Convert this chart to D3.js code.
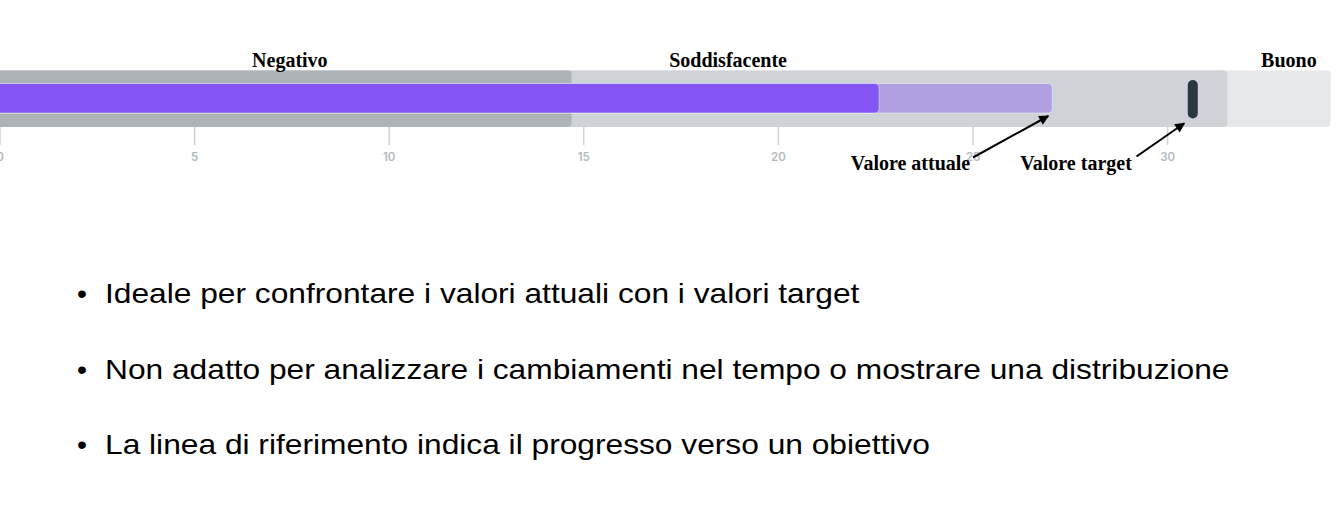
<!DOCTYPE html>
<html>
<head>
<meta charset="utf-8">
<script src="https://cdn.jsdelivr.net/npm/d3@7"></script>
<style>
    html, body { margin: 0; padding: 0; background: #ffffff; }
    #chart-area { width: 1342px; height: 509px; }
    .axis path { display: none; }
    .axis line { stroke: #cfd3d8; stroke-width: 1.5; }
    .axis text { fill: #b3b9c1; font-family: Inter, "Noto Sans", sans-serif; font-size: 11.5px; font-weight: 600; }
    .range-label, .annotation { font-family: "Liberation Serif", "Times New Roman", serif; font-weight: bold; font-size: 20px; fill: #000; }
    .bullet-text { font-family: "Liberation Sans", Arial, sans-serif; font-size: 28.5px; fill: #000; }
</style>
</head>
<body>
<div id="chart-area"></div>
<script>

// Qualitative ranges (upper end of each band)
var rangeNames = ["Negativo", "Soddisfacente", "Buono"];
var rangeEnds = [14.7, 31.55, 34.2];
var rangeColors = ["#aeb3b8", "#cfd2d6", "#e6e7e9"];

// Measures: projected (light) and current (dark)
var measureNames = ["Valore attuale", "Parziale"];
var measureValues = [27.05, 22.6];
var measureColors = ["#b09fe1", "#8455f3"];

var targetValue = 30.66;

var tickValues = [0, 5, 10, 15, 20, 25, 30];

var bulletPoints = [
    "Ideale per confrontare i valori attuali con i valori target",
    "Non adatto per analizzare i cambiamenti nel tempo o mostrare una distribuzione",
    "La linea di riferimento indica il progresso verso un obiettivo"
];


var svg = d3.select("#chart-area").append("svg")
    .attr("width", 1342)
    .attr("height", 509);

// Scale: 0 sits on the left edge of the page
var x = d3.scaleLinear()
    .domain([0, 30])
    .range([-0.5, 1167.1]);

var bandTop = 70.5, bandBottom = 127;
var barTop = 83.5, barBottom = 113;

// Ranges, longest first so the shorter ones sit on top
var ranges = rangeEnds.map(function(d, i) { return { name: rangeNames[i], end: d, color: rangeColors[i] }; })
    .sort(function(a, b) { return b.end - a.end; });

svg.selectAll(".range")
    .data(ranges)
    .enter().append("rect")
    .attr("class", "range")
    .attr("x", x(0) - 4)
    .attr("y", bandTop)
    .attr("width", function(d) { return x(d.end) - x(0) + 4; })
    .attr("height", bandBottom - bandTop)
    .attr("rx", 4)
    .attr("fill", function(d) { return d.color; });

// Measure bars
svg.selectAll(".measure")
    .data(measureValues)
    .enter().append("rect")
    .attr("class", "measure")
    .attr("x", x(0) - 4)
    .attr("y", barTop)
    .attr("width", function(d) { return x(d) - x(0) + 4; })
    .attr("height", barBottom - barTop)
    .attr("rx", 4)
    .attr("fill", function(d, i) { return measureColors[i]; })
    .attr("stroke", "rgba(255,255,255,0.45)")
    .attr("stroke-width", 1);

// Target marker
svg.append("rect")
    .attr("class", "target")
    .attr("x", x(targetValue) - 5)
    .attr("y", 80)
    .attr("width", 10)
    .attr("height", 38.5)
    .attr("rx", 5)
    .attr("fill", "#2c373d");

// Axis
var xAxis = d3.axisBottom(x)
    .tickValues(tickValues)
    .tickSize(18)
    .tickPadding(8);

svg.append("g")
    .attr("class", "x-axis axis")
    .attr("transform", "translate(0," + bandBottom + ")")
    .call(xAxis);

// Range labels (centre position in axis units)
var rangeLabelAt = [7.46, 18.72, 33.13];

svg.selectAll(".range-label")
    .data(rangeNames)
    .enter().append("text")
    .attr("class", "range-label")
    .attr("x", function(d, i) { return x(rangeLabelAt[i]); })
    .attr("y", 66.5)
    .attr("text-anchor", "middle")
    .text(function(d) { return d; });

// Annotations with arrows
var defs = svg.append("defs");
defs.append("marker")
    .attr("id", "arrow")
    .attr("viewBox", "0 0 10 10")
    .attr("refX", 9)
    .attr("refY", 5)
    .attr("markerWidth", 5.5)
    .attr("markerHeight", 5)
    .attr("markerUnits", "strokeWidth")
    .attr("orient", "auto")
    .append("path")
    .attr("d", "M0,0L10,5L0,10z")
    .attr("fill", "#000");

var annotations = [
    { label: measureNames[0], value: measureValues[0], textX: 910.5, from: [973, 157.5], tipDx: -4, tipY: 116 },
    { label: "Valore target", value: targetValue, textX: 1076, from: [1136.5, 156.5], tipDx: -8.5, tipY: 123.3 }
];

svg.selectAll(".annotation")
    .data(annotations)
    .enter().append("text")
    .attr("class", "annotation")
    .attr("x", function(d) { return d.textX; })
    .attr("y", 170)
    .attr("text-anchor", "middle")
    .text(function(d) { return d.label; });

svg.selectAll(".arrow")
    .data(annotations)
    .enter().append("line")
    .attr("class", "arrow")
    .attr("x1", function(d) { return d.from[0]; })
    .attr("y1", function(d) { return d.from[1]; })
    .attr("x2", function(d) { return x(d.value) + d.tipDx; })
    .attr("y2", function(d) { return d.tipY; })
    .attr("stroke", "#000")
    .attr("stroke-width", 2)
    .attr("marker-end", "url(#arrow)");

// Bullet list below the chart (the source text is set a little wide)
var lines = svg.selectAll(".bullet-line")
    .data(bulletPoints)
    .enter().append("g")
    .attr("class", "bullet-line")
    .attr("transform", function(d, i) { return "translate(0," + [303, 378.5, 454][i] + ")"; });

lines.append("text")
    .attr("class", "bullet-text")
    .attr("x", 77)
    .text("\u2022");

lines.append("text")
    .attr("class", "bullet-text")
    .attr("transform", "translate(105,0) scale(1.113,1)")
    .text(function(d) { return d; });

</script>
</body>
</html>
